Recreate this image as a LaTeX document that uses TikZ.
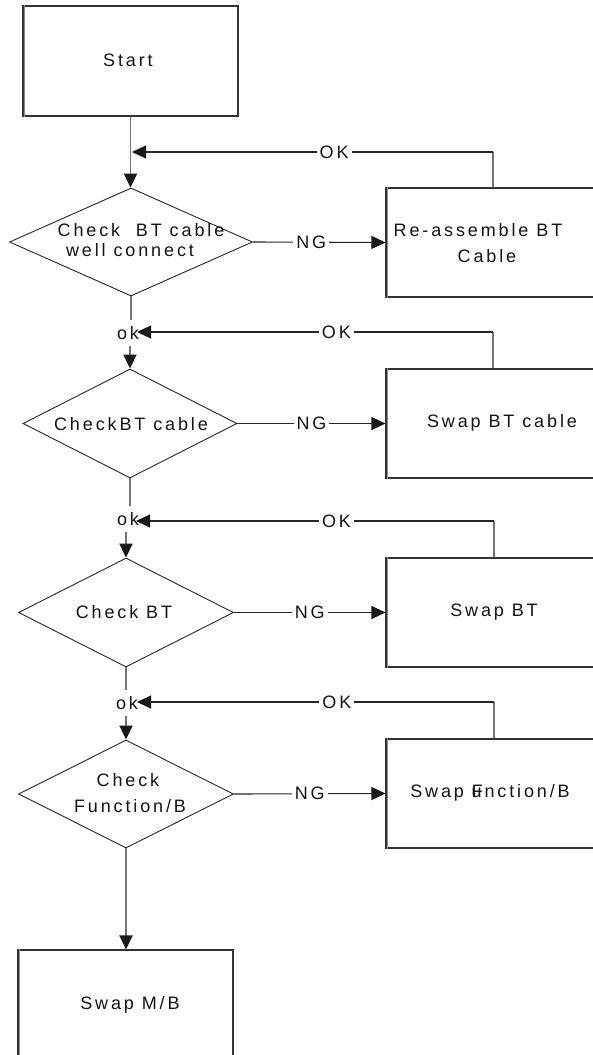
\documentclass[tikz,border=0pt]{standalone}
\usepackage{fontspec}
\setmainfont{Liberation Sans}[LetterSpace=16]
\usetikzlibrary{shapes.geometric,arrows.meta}
\begin{document}
\begin{tikzpicture}[x=1pt,y=-1pt,
  txt/.style={font=\fontsize{18}{20}\selectfont, text=black!92, inner sep=0pt},
  lbl/.style={txt, fill=white, inner xsep=3pt, inner ysep=1pt},
  oktxt/.style={txt, inner xsep=1pt, inner ysep=6pt},
  box/.style={draw=black!80, line width=1.1pt, rectangle, inner sep=0pt},
  dia/.style={draw=black!85, line width=0.9pt, diamond, inner sep=0pt},
  vline/.style={draw=black!55, line width=1.9pt},
  hline/.style={draw=black!85, line width=1.1pt},
  tip/.style={-{Triangle[length=14pt,width=13pt,color=black!90]}}]
\useasboundingbox (0,0) rectangle (593,1055);
\clip (0,0) rectangle (593,1055);
\fill[white] (0,0) rectangle (593,1055);

% boxes
\node[box, minimum width=215pt, minimum height=110pt] (start) at (130.5,61) {};
\node[txt] (starttxt) at (128,60) {Start};
\node[box, minimum width=224pt, minimum height=109pt] (b1) at (498,242.5) {};
\node[box, minimum width=224pt, minimum height=109pt] (b2) at (498,423.5) {};
\node[box, minimum width=224pt, minimum height=109pt] (b3) at (498,612.5) {};
\node[box, minimum width=224pt, minimum height=109pt] (b4) at (498,793.5) {};
\node[box, minimum width=215pt, minimum height=120pt] (mb) at (125.5,1010) {};
% double left edges
\foreach \n in {start,b1,b2,b3,b4,mb}
  \draw[black!45, line width=0.8pt] ([xshift=2pt]\n.north west) -- ([xshift=2pt]\n.south west);

% diamonds
\node[dia, minimum width=243pt, minimum height=108pt] (d1) at (131,242) {};
\node[dia, minimum width=214pt, minimum height=109pt] (d2) at (130,423.5) {};
\node[dia, minimum width=215pt, minimum height=109pt] (d3) at (126,612.5) {};
\node[dia, minimum width=215pt, minimum height=108pt] (d4) at (126,794) {};

% texts
\node[txt] (t1a) at (141,230) {Check\ \ BT cable};
\node[txt] (t1b) at (130,250) {well connect};
\node[txt] (t2) at (131,424) {CheckBT cable};
\node[txt] (t3) at (124,612) {Check BT};
\node[txt] (t4a) at (128,780) {Check};
\node[txt] (t4b) at (130,806) {Function/B};
\node[txt] (tb1a) at (478,230) {Re-assemble BT};
\node[txt] (tb1b) at (487,256) {Cable};
\node[txt] (tb2) at (502,423) {Swap BT cable};
\node[txt] (tb3) at (494,612) {Swap BT};
\node[txt] (tb4) at (490,793) {Swap F\hspace{-0.62em}unction/B};
\node[txt] (tmb) at (130,1005) {Swap M/B};

% ok texts
\node[oktxt] (ok2) at (128,333) {ok};
\node[oktxt] (ok3) at (128,519) {ok};
\node[oktxt] (ok4) at (127,703) {ok};

% return points
\coordinate (r1) at (132,152);
\coordinate (r2) at (137,332);
\coordinate (r3) at (136,521);
\coordinate (r4) at (137,702);
\coordinate (c1) at (493,152);
\coordinate (c2) at (493,332);
\coordinate (c3) at (494,521);
\coordinate (c4) at (494,702);

% main flow
\draw[vline, tip] (start.south) -- (start.south |- d1.north);
\draw[vline] (d1.south) -- (d1.south |- ok2.north);
\draw[vline, tip] (ok2.south -| d2.north) -- (d2.north);
\draw[vline] (d2.south) -- (d2.south |- ok3.north);
\draw[vline, tip] (ok3.south -| d3.north) -- (d3.north);
\draw[vline] (d3.south) -- (d3.south |- ok4.north);
\draw[vline, tip] (ok4.south -| d4.north) -- (d4.north);
\draw[vline, tip] (d4.south) -- (d4.south |- mb.north);

% NG
\draw[hline, tip] (d1.east) -- (b1.west) node[lbl, pos=0.44] (ng1) {NG};
\draw[hline, tip] (d2.east) -- (b2.west) node[lbl, pos=0.5] (ng2) {NG};
\draw[hline, tip] (d3.east) -- (b3.west) node[lbl, pos=0.5] (ng3) {NG};
\draw[hline, tip] (d4.east) -- (b4.west) node[lbl, pos=0.5] (ng4) {NG};

% OK returns
\draw[vline, line width=1.4pt] (b1.north -| c1) -- (c1);
\draw[hline, tip] (c1) -- (r1) node[lbl, pos=0.44] (okl1) {OK};
\draw[vline, line width=1.4pt] (b2.north -| c2) -- (c2);
\draw[hline, tip] (c2) -- (r2) node[lbl, pos=0.44] (okl2) {OK};
\draw[vline, line width=1.4pt] (b3.north -| c3) -- (c3);
\draw[hline, tip] (c3) -- (r3) node[lbl, pos=0.44] (okl3) {OK};
\draw[vline, line width=1.4pt] (b4.north -| c4) -- (c4);
\draw[hline, tip] (c4) -- (r4) node[lbl, pos=0.44] (okl4) {OK};
\end{tikzpicture}
\end{document}
